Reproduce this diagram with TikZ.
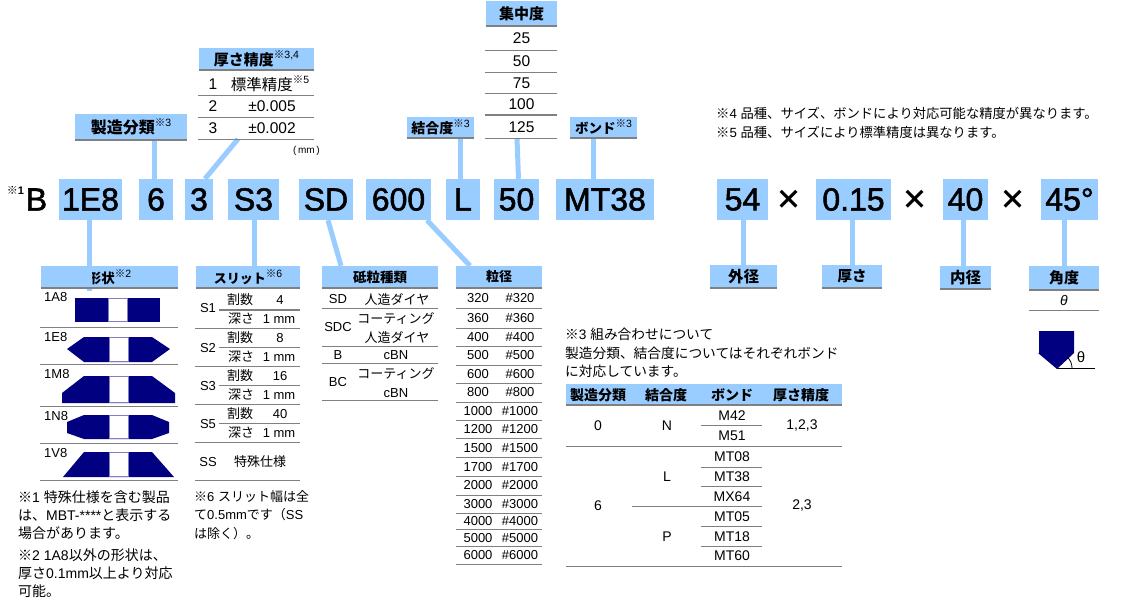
\documentclass[tikz,border=0pt]{standalone}
\usepackage{fontspec}
\setmainfont{Liberation Sans}
\newfontfamily\cjk{Noto Sans CJK JP}
\newfontfamily\keyfont[FakeBold=1.6]{Liberation Sans}
\definecolor{accent}{HTML}{99CCFF}
\definecolor{rulegray}{HTML}{808080}
\definecolor{wheelblue}{HTML}{000080}
\definecolor{slotedge}{HTML}{8080C0}
\newcommand{\jp}[1]{{\cjk #1}}
\newcommand{\upnote}[1]{\raisebox{.45em}{\normalfont\fontsize{10.5}{10.5}\selectfont\jp{※}#1}}
\tikzset{
  keybox/.style={fill=accent,inner sep=0pt,minimum height=41pt,font=\keyfont\fontsize{32}{34}\selectfont},
  headbox/.style={fill=accent,inner sep=0pt,font=\bfseries},
  feeder/.style={draw=accent,line width=5pt},
  ruleheavy/.style={draw=rulegray,line width=1.6pt},
  rulethin/.style={draw=rulegray,line width=0.9pt},
  cell/.style={inner sep=0pt,font=\fontsize{13}{15}\selectfont},
  cellwide/.style={inner sep=0pt,font=\fontsize{15.5}{17}\selectfont},
  cellbond/.style={inner sep=0pt,font=\fontsize{14}{16}\selectfont},
  notetext/.style={inner sep=0pt,anchor=west,align=left,font=\fontsize{14}{18.3}\selectfont},
  wheel/.style={fill=wheelblue},
  slotbox/.style={draw=slotedge,fill=white,line width=0.8pt}
}

\begin{document}
\begin{tikzpicture}[x=1pt,y=-1pt]

  \useasboundingbox (0,0) rectangle (1142,607);

  % Header cells
  \foreach \nm/\cx/\cy/\hw/\hh/\sz/\txt in {
    headthick/256.5/59/115/22/15/{\jp{厚さ精度}\upnote{3,4}},
    headmake/131/127/112/26/16/{\jp{製造分類}\upnote{3}},
    headconc/521.5/13.5/71/25/15/{\jp{集中度}},
    headbond/440.5/127.5/67/21/14/{\jp{結合度}\upnote{3}},
    headbind/603.5/127.5/67/21/13.5/{\jp{ボンド}\upnote{3}},
    headshape/109.5/277/137/22/13.5/{\jp{形状}\upnote{2}},
    headslit/248/277/104/22/13/{\jp{スリット}\upnote{6}},
    headabr/380/277/116/22/13.5/{\jp{砥粒種類}},
    headgrain/499/277/86/22/13/{\jp{粒径}},
    headouter/743.5/276.5/67/23/15.5/{\jp{外径}},
    headdepth/852/276.5/60/23/14.5/{\jp{厚さ}},
    headinner/965.5/277.5/51/23/15.5/{\jp{内径}},
    headangle/1064/278/70/24/15/{\jp{角度}},
    headtable/704/394.5/276/21/14/{}}
    \node (\nm) [headbox,minimum width=\hw pt,minimum height=\hh pt] at (\cx,\cy)
      {\fontsize{\sz}{\sz}\selectfont\txt};

  % Code boxes
  \foreach \nm/\cx/\hw/\txt in {
    keyone/90.5/63/1E8,keytwo/156/34/6,keythree/199/28/3,keyfour/253.5/51/S3,
    keyfive/326/54/SD,keysix/398.5/65/600,keyseven/463/34/L,keyeight/516.5/45/50,
    keynine/605/98/MT38,keyouter/742.5/51/54,keydepth/853.5/75/0.15,
    keyinner/965.5/45/40,keyangle/1069.5/57/45°}
    \node (\nm) [keybox,minimum width=\hw pt] at (\cx,199.5) {\txt};

  \node (prefix) [inner sep=0pt,font=\keyfont\fontsize{32}{34}\selectfont] at (36.5,199.5) {B};
  \node (prefixnote) [inner sep=0pt,font=\fontsize{11}{12}\bfseries] at (15.5,190) {\jp{※}1};

  \foreach \nm/\cx in {crossa/789,crossb/915,crossc/1013}
    \node (\nm) [inner sep=0pt,font=\fontsize{27}{29}\bfseries] at (\cx,200) {\jp{×}};

  % Connectors
  \coordinate (thickfoot) at (238,139);
  \coordinate (concfoot) at (517,138);
  \foreach \ka/\sa/\kb/\sb in {
    keytwo.north/-1.5/headmake.south/23.5,
    keythree.north/6/thickfoot/0,
    keyfour.south/1/headslit.north/6.5,
    keyfive.south/2/headabr.north/-39,
    keysix.south/28.5/headgrain.north/-29,
    keyseven.north/-3/headbond.south/19.5,
    keyeight.north/2/concfoot/0,
    keynine.north/-11.5/headbind.south/-10,
    keyouter.south/1/headouter.north/0,
    keydepth.south/-1/headdepth.north/0.5,
    keyinner.south/-2/headinner.north/-2,
    keyangle.south/-5/headangle.north/0.5}
    \draw[feeder] ([xshift=\sa pt]\ka) -- ([xshift=\sb pt]\kb);
  \draw[feeder] ([xshift=-1pt]keyone.south) -- ([xshift=-20pt,yshift=-3pt]headshape.south);

  % Header rules
  \foreach \nm in {headthick,headmake,headconc,headbond,headbind,headshape,headslit,
    headabr,headgrain,headouter,headdepth,headinner,headangle,headtable}
    \draw[ruleheavy] (\nm.south west) -- (\nm.south east);

  % Thickness table
  \foreach \yy in {95,117,139} \draw[rulethin] (198,\yy) -- (314,\yy);
  \foreach \nm/\xx/\yy/\txt in {
    tha/213/84/1,thb/213/106/2,thc/213/128/3,
    thd/270/84/{\jp{標準精度}\upnote{5}},the/272/106/±0.005,thf/272/128/±0.002}
    \node (\nm) [cellwide] at (\xx,\yy) {\txt};
  \node (unitmm) [inner sep=0pt,font=\fontsize{10}{12}\selectfont] at (306.5,151) {(\,mm\,)};

  % Concentration table
  \foreach \yy in {50.5,72,93.5,138} \draw[rulethin] (485,\yy) -- (557,\yy);
  \draw[ruleheavy] (485,115) -- (557,115);
  \foreach \num/\yy in {25/38,50/61,75/83,100/104,125/127}
    \node (conc\num) [cellwide] at (521.5,\yy) {\num};

  % Shape table
  \foreach \yy in {327,364,406,443,480} \draw[rulethin] (40,\yy) -- (178,\yy);
  \foreach \nm/\yy in {1A8/297,1E8/337,1M8/374,1N8/416,1V8/453}
    \node (shape\nm) [cell,anchor=west] at (44,\yy) {\nm};
  \fill[wheel] (75,298) rectangle (160,322);
  \fill[wheel] (67,349)--(84,337)--(152,337)--(170,349)--(152,362)--(84,362)--cycle;
  \fill[wheel] (84,376)--(152,376)--(175,393)--(175,403)--(62,403)--(62,393)--cycle;
  \fill[wheel] (84,415)--(152,415)--(169,422)--(169,433)--(152,439)--(84,439)--(67,433)--(67,422)--cycle;
  \fill[wheel] (84,452)--(152,452)--(174,477)--(63,477)--cycle;
  \draw[slotbox] (108.5,298.5) rectangle (127,321.5);
  \foreach \ya/\yb in {337.5/361.5,376.5/402.5,415.5/438.5,452.5/476.5}
    \draw[slotbox] (109.5,\ya) rectangle (128,\yb);

  % Slit table
  \draw[ruleheavy] (219,310) -- (300,310);
  \foreach \yy in {347,385,423} \draw[rulethin] (219,\yy) -- (300,\yy);
  \foreach \yy in {328,366,404,442,480} \draw[rulethin] (195,\yy) -- (300,\yy);
  \foreach \nm/\num/\ya/\yb/\yc in {S1/4/308/300/319,S2/8/348/338/357,S3/16/386/376/395,S5/40/424/414/433}{
    \node (slit\nm) [cell] at (208,\ya) {\nm};
    \node (cuts\nm) [cell] at (240,\yb) {\jp{割数}};
    \node (count\nm) [cell] at (280,\yb) {\num};
    \node (deep\nm) [cell] at (241,\yc) {\jp{深さ}};
    \node (depth\nm) [cell] at (279,\yc) {1 mm};
  }
  \node (slitSS) [cell] at (208,462) {SS};
  \node (specialSS) [cell] at (260,462) {\jp{特殊仕様}};

  % Abrasive table
  \foreach \yy in {308,346,363,400} \draw[rulethin] (322,\yy) -- (438,\yy);
  \foreach \nm/\xx/\yy/\txt in {
    aba/338/299/SD,abb/397/299/\jp{人造ダイヤ},abc/338/327/SDC,abd/396/319/\jp{コーティング},
    abe/397/337/\jp{人造ダイヤ},abf/338/355/B,abg/396/355/cBN,abh/338/382/BC,
    abi/396/374/\jp{コーティング},abj/396/393/cBN}
    \node (\nm) [cell] at (\xx,\yy) {\txt};

  % Grain table
  \foreach \yy in {308,328,346,365,383,402,420,438,457,476,495,513,529,546,564}
    \draw[rulethin] (456,\yy) -- (542,\yy);
  \foreach \num/\yy in {320/298,360/318,400/337,500/355,600/374,800/392,1000/411,1200/429,
    1500/448,1700/467,2000/485,3000/504,4000/521,5000/538,6000/555}{
    \node (grain\num) [cell] at (478,\yy) {\num};
    \node (mesh\num) [cell] at (520,\yy) {\#\num};
  }

  % Angle table and sketch
  \draw[rulethin] (1029,310) -- (1099,310);
  \node (anglesym) [cellbond,font=\fontsize{14}{16}\itshape] at (1064,300) {θ};
  \fill[wheel] (1039,331)--(1074,331)--(1074,353)--(1057,369)--(1038,353)--(1039,353)--cycle;
  \draw[line width=1.5pt] (1057,368.5) -- (1095,368.5);
  \draw[line width=0.8pt] (1072,368) arc (0:-45:15);
  \node (anglemark) [inner sep=0pt,font=\fontsize{15}{17}\selectfont] at (1081,357) {θ};

  % Bond table
  \foreach \yy in {446,566} \draw[rulethin] (566,\yy) -- (842,\yy);
  \foreach \yy in {425,467,486,526,546} \draw[rulethin] (701,\yy) -- (762,\yy);
  \draw[rulethin] (632,506.5) -- (762,506.5);
  \foreach \nm/\xx/\txt in {tha1/598/\jp{製造分類},tha2/666/\jp{結合度},tha3/732/\jp{ボンド},tha4/801/\jp{厚さ精度}}
    \node (\nm) [inner sep=0pt,font=\fontsize{14}{16}\bfseries] at (\xx,395) {\txt};
  \foreach \nm/\xx/\yy/\txt in {
    bna/598/426/0,bnb/667/426/N,bnc/802/426/{1,2,3},bnd/598/506/6,bne/667/477/L,
    bnf/667/537/P,bng/802/506/{2,3}}
    \node (\nm) [cellbond] at (\xx,\yy) {\txt};
  \foreach \nm/\yy in {M42/416,M51/436,MT08/457,MT38/477,MX64/497,MT05/517,MT18/537,MT60/556}
    \node (bond\nm) [cellbond] at (732,\yy) {\nm};

  % Notes
  \node (notea) [notetext] at (18,515) {\jp{※}1 \jp{特殊仕様を含む製品}\\\jp{は、}MBT-****\jp{と表示する}\\\jp{場合があります。}};
  \node (noteb) [notetext] at (18,573) {\jp{※}2 1A8\jp{以外の形状は、}\\\jp{厚さ}0.1mm\jp{以上より対応}\\\jp{可能。}};
  \node (notef) [notetext,font=\fontsize{13}{18.3}\selectfont] at (194,515) {\jp{※}6 \jp{スリット幅は全}\\\jp{て}0.5mm\jp{です（}SS\\\jp{は除く）。}};
  \node (notec) [notetext,font=\fontsize{13.7}{18.3}\selectfont] at (565,353) {\jp{※}3 \jp{組み合わせについて}\\\jp{製造分類、結合度についてはそれぞれボンド}\\\jp{に対応しています。}};
  \node (noted) [notetext,font=\fontsize{13.3}{15}\selectfont] at (716,113) {\jp{※}4 \jp{品種、サイズ、ボンドにより対応可能な精度が異なります。}};
  \node (notee) [notetext,font=\fontsize{13.3}{15}\selectfont] at (716,132) {\jp{※}5 \jp{品種、サイズにより標準精度は異なります。}};

\end{tikzpicture}
\end{document}
